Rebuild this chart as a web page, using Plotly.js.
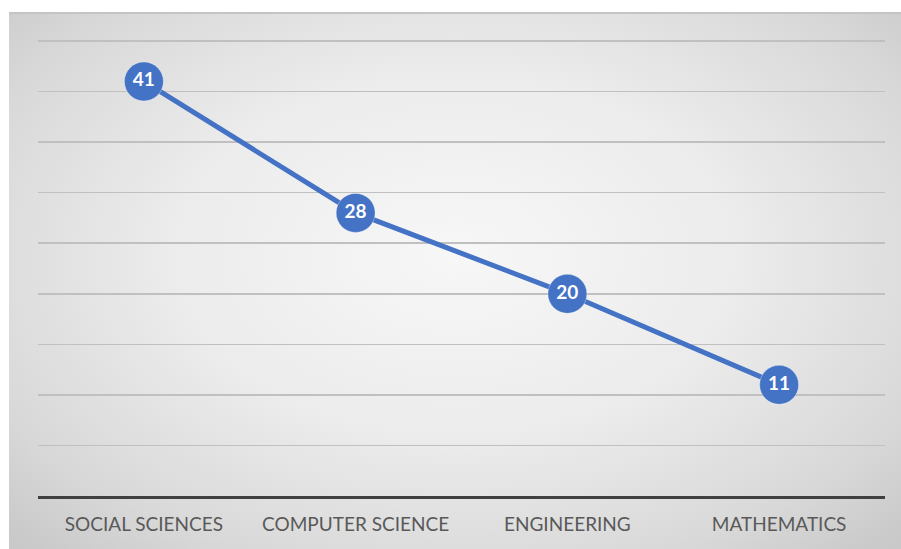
<!DOCTYPE html>
<html>
<head>
<meta charset="utf-8">
<script src="https://cdn.plot.ly/plotly-3.0.1.min.js"></script>
<style>
  html, body { margin: 0; padding: 0; background: #ffffff; }
  #bg {
    position: absolute; left: 9px; top: 12px; width: 892px; height: 537px;
    background: radial-gradient(ellipse 70% 75% at 50% 45%, #f7f7f7 0%, #ececec 45%, #d9d9d9 80%, #c9c9c9 100%);
    border-top: 2px solid #c4c4c4;
    box-sizing: border-box;
  }
  #chart { position: absolute; left: 0; top: 0; width: 901px; height: 549px; }
</style>
</head>
<body>
<div id="bg"></div>
<div id="chart"></div>
<script>
const categories = ["SOCIAL SCIENCES", "COMPUTER SCIENCE", "ENGINEERING", "MATHEMATICS"];
const values = [41, 28, 20, 11];
const labels = ["41", "28", "20", "11"];

const trace = {
  x: categories,
  y: values,
  text: labels,
  type: "scatter",
  mode: "lines+markers+text",
  textposition: "middle center",
  textfont: { family: "Lato, 'Open Sans', sans-serif", size: 19, color: "#ffffff", weight: "bold" },
  line: { color: "#4472C4", width: 5 },
  marker: { color: "#4472C4", size: 39, line: { color: "rgba(255,255,255,0.35)", width: 1 } },
  hoverinfo: "x+y",
  cliponaxis: false
};

const layout = {
  width: 901,
  height: 549,
  margin: { l: 38, r: 16, t: 38, b: 53 },
  paper_bgcolor: "rgba(0,0,0,0)",
  plot_bgcolor: "rgba(0,0,0,0)",
  showlegend: false,
  xaxis: {
    type: "category",
    range: [-0.5, 3.5],
    showgrid: false,
    zeroline: false,
    showline: true,
    linecolor: "#404040",
    linewidth: 3,
    ticks: "outside",
    ticklen: 9,
    tickcolor: "rgba(0,0,0,0)",
    tickfont: { family: "Lato, 'Open Sans', sans-serif", size: 19, color: "#595959" },
    fixedrange: true
  },
  yaxis: {
    range: [0, 45.3],
    dtick: 5,
    tick0: 0,
    showgrid: true,
    gridcolor: "#c0c0c0",
    gridwidth: 1.6,
    zeroline: false,
    showline: false,
    showticklabels: false,
    ticks: "",
    fixedrange: true
  }
};

Plotly.newPlot("chart", [trace], layout, { displayModeBar: false, staticPlot: true });
</script>
</body>
</html>
